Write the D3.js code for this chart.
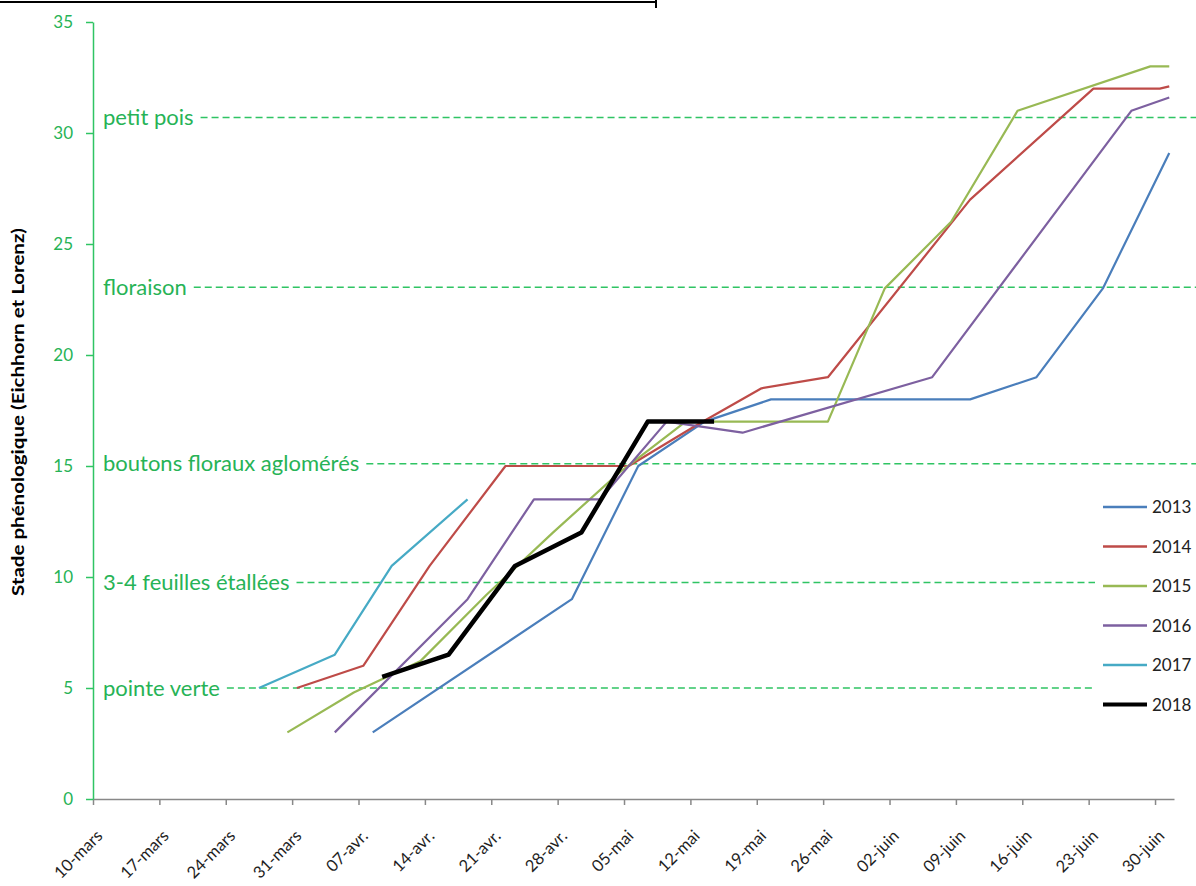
<!DOCTYPE html>
<html>
<head>
<meta charset="utf-8">
<script src="https://cdn.jsdelivr.net/npm/d3@7"></script>
<style>
  body { margin: 0; background: #fff; }
  svg { display: block; }
  text { font-family: Lato, "Open Sans", sans-serif; }
</style>
</head>
<body>
<div class="vis-phenology"></div>
<script>
// week ticks on the date axis
const tickLabels = ["10-mars", "17-mars", "24-mars", "31-mars", "07-avr.", "14-avr.", "21-avr.", "28-avr.",
    "05-mai", "12-mai", "19-mai", "26-mai", "02-juin", "09-juin", "16-juin", "23-juin", "30-juin"];
const yTicks = [0, 5, 10, 15, 20, 25, 30, 35];

// reference stages (dashed lines)
const stageNames = ["pointe verte", "3-4 feuilles étallées", "boutons floraux aglomérés", "floraison", "petit pois"];
const stageValues = [5.0, 9.75, 15.1, 23.05, 30.7];

// observations per year, [day-month, stage]
const s2013 = [["04-08", 3], ["04-29", 9], ["05-06", 15], ["05-13", 17], ["05-20", 18], ["06-10", 18],
    ["06-17", 19], ["06-24", 23], ["07-01", 29.1]];
const s2014 = [["03-31", 5], ["04-07", 6], ["04-14", 10.5], ["04-22", 15], ["05-05", 15], ["05-12", 16.8],
    ["05-19", 18.5], ["05-26", 19], ["06-10", 27], ["06-23", 32], ["06-30", 32], ["07-01", 32.1]];
const s2015 = [["03-30", 3], ["04-06", 4.8], ["04-13", 6.2], ["04-20", 9.2], ["04-27", 12], ["05-04", 14.7],
    ["05-11", 17], ["05-19", 17], ["05-26", 17], ["06-01", 23], ["06-08", 26], ["06-15", 31],
    ["06-29", 33], ["07-01", 33]];
const s2016 = [["04-04", 3], ["04-18", 9], ["04-25", 13.5], ["05-02", 13.5], ["05-09", 17], ["05-17", 16.5],
    ["06-06", 19], ["06-27", 31], ["07-01", 31.6]];
const s2017 = [["03-27", 5], ["04-04", 6.5], ["04-10", 10.5], ["04-18", 13.5]];
const s2018 = [["04-09", 5.5], ["04-16", 6.5], ["04-23", 10.5], ["04-30", 12], ["05-07", 17], ["05-14", 17]];

const years = ["2013", "2014", "2015", "2016", "2017", "2018"];
const seriesList = [s2013, s2014, s2015, s2016, s2017, s2018];
const colors = ["#4a7ebb", "#be4b48", "#98b954", "#7d60a0", "#46aac5", "#000000"];

const W = 1196, H = 886;
const green = "#2fc463", greenText = "#27b356";
const parse = d3.timeParse("%Y-%m-%d");
const day = s => parse("2018-" + s);

let svg = d3.select('.vis-phenology').append('svg')
    .attr('width', W)
    .attr('height', H);

// Scales
let x = d3.scaleTime()
    .domain([day("03-10"), day("07-02")])
    .range([93, 1174]);
let y = d3.scaleLinear()
    .domain([0, 35])
    .range([799, 22]);

// frame remnant at the top
svg.append("path")
    .attr("d", "M0,2H656M656,0V8")
    .attr("fill", "none")
    .attr("stroke", "#000")
    .attr("stroke-width", 2);

// Stage labels and dashed lines
stageNames.forEach((name, i) => {
    const yy = y(stageValues[i]);
    const t = svg.append("text")
        .attr("x", 103)
        .attr("y", yy)
        .attr("dy", "0.35em")
        .attr("fill", greenText)
        .style("font-size", "22px")
        .text(name);
    const len = t.node().getComputedTextLength();
    svg.insert("line", "text")
        .attr("x1", 103 + len + 7)
        .attr("x2", W)
        .attr("y1", yy)
        .attr("y2", yy)
        .attr("stroke", green)
        .attr("stroke-width", 1.5)
        .attr("stroke-dasharray", "7,4");
});

// X axis
const tickDates = tickLabels.map((d, i) => d3.timeDay.offset(day("03-10"), 7 * i));
const xAxis = svg.append("g")
    .attr("transform", "translate(0," + y(0) + ")")
    .call(d3.axisBottom(x).tickValues(tickDates).tickFormat((d, i) => tickLabels[i]).tickSize(6).tickSizeOuter(0));
xAxis.select(".domain").attr("stroke", "#888").attr("stroke-width", 1.5);
xAxis.selectAll(".tick line").attr("stroke", "#888").attr("stroke-width", 1.5);
xAxis.selectAll(".tick text")
    .attr("x", 0).attr("y", 0).attr("dy", 0)
    .attr("text-anchor", "end")
    .attr("transform", "translate(10,38) rotate(-45)")
    .attr("fill", "#1e1e1e")
    .style("font-size", "16.5px")
    .style("font-family", "Lato, sans-serif");

// Y axis
const yAxis = svg.append("g")
    .attr("transform", "translate(" + x.range()[0] + ",0)")
    .call(d3.axisLeft(y).tickValues(yTicks).tickSize(7).tickSizeOuter(0).tickPadding(13));
yAxis.select(".domain").attr("stroke", green).attr("stroke-width", 1.5);
yAxis.selectAll(".tick line").attr("stroke", green).attr("stroke-width", 1.5);
yAxis.selectAll(".tick text")
    .attr("fill", greenText)
    .style("font-size", "17px")
    .style("font-family", "Lato, sans-serif");

svg.append("text")
    .attr("text-anchor", "middle")
    .attr("transform", "translate(24,412) rotate(-90)")
    .attr("textLength", 368)
    .attr("lengthAdjust", "spacingAndGlyphs")
    .style("font-size", "17px")
    .style("font-weight", "bold")
    .attr("fill", "#000")
    .text("Stade phénologique (Eichhorn et Lorenz)");

// Lines (points sit mid-day on the date axis)
const line = d3.line()
    .x(d => x(d3.timeHour.offset(day(d[0]), 12)))
    .y(d => y(d[1]));

seriesList.forEach((s, i) => {
    svg.append("path")
        .datum(s)
        .attr("fill", "none")
        .attr("stroke", colors[i])
        .attr("stroke-width", i === 5 ? 4.5 : 2.2)
        .attr("stroke-linejoin", "round")
        .attr("d", line);
});

// Legend
svg.append("rect")
    .attr("x", 1095).attr("y", 488)
    .attr("width", W - 1095).attr("height", 232)
    .attr("fill", "#fff");
years.forEach((yr, i) => {
    const ly = 507 + i * 39.5;
    svg.append("line")
        .attr("x1", 1103).attr("x2", 1147)
        .attr("y1", ly).attr("y2", ly)
        .attr("stroke", colors[i])
        .attr("stroke-width", i === 5 ? 4 : 2.5);
    svg.append("text")
        .attr("x", 1152).attr("y", ly)
        .attr("dy", "0.36em")
        .attr("fill", "#222")
        .style("font-size", "17px")
        .text(yr);
});
</script>
</body>
</html>
